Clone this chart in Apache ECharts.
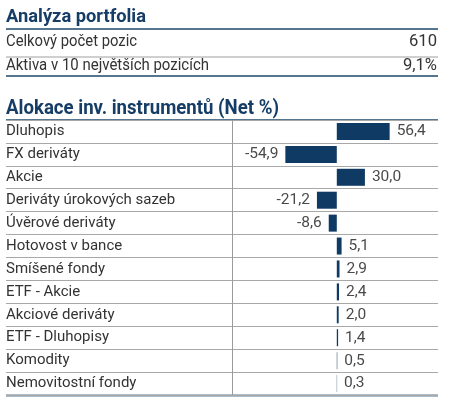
<!DOCTYPE html>
<html><head><meta charset="utf-8">
<script src="https://cdn.jsdelivr.net/npm/echarts@6/dist/echarts.min.js"></script>
<style>html,body{margin:0;padding:0;background:#fff}#c{width:450px;height:407px}</style>
</head><body><div id="c"></div>
<script>
var summaryTitle = 'Analýza portfolia';
var summaryLabels = ['Celkový počet pozic', 'Aktiva v 10 největších pozicích'];
var summaryValues = ['610', '9,1%'];
var chartTitle = 'Alokace inv. instrumentů (Net %)';
var categories = ['Dluhopis', 'FX deriváty', 'Akcie', 'Deriváty úrokových sazeb', 'Úvěrové deriváty',
  'Hotovost v bance', 'Smíšené fondy', 'ETF - Akcie', 'Akciové deriváty', 'ETF - Dluhopisy',
  'Komodity', 'Nemovitostní fondy'];
var values = [56.4, -54.9, 30.0, -21.2, -8.6, 5.1, 2.9, 2.4, 2.0, 1.4, 0.5, 0.3];

var FONT = 'Roboto, "Noto Sans", sans-serif';
var NAVY = '#0e3a63';
var TITLE = '#163d66';
var TXT = '#333333';
var RULE = '#56768f';

var mctx = document.createElement('canvas').getContext('2d');
function measure(text, font) { mctx.font = font; return mctx.measureText(text).width; }
function fit(text, font, target) { return target / measure(text, font); }

var labelSize = Math.round(16 * fit('Deriváty úrokových sazeb', '16px ' + FONT, 168) * 2) / 2;

var chart = echarts.init(document.getElementById('c'), null, {renderer: 'canvas'});

function txt(text, x, y, font, color, width, align) {
  var s = fit(text, font, width);
  return {type: 'text', x: x, y: y, scaleX: s, originX: 0, originY: 0,
    style: {text: text, font: font, fill: color, textAlign: align || 'left', textVerticalAlign: 'middle'}};
}

var graphics = [
  txt(summaryTitle, 6, 17.5, 'bold 19px ' + FONT, TITLE, 140),
  {type: 'rect', shape: {x: 6, y: 28, width: 432, height: 2}, style: {fill: RULE}},
  {type: 'rect', shape: {x: 6, y: 56.5, width: 432, height: 1}, style: {fill: '#a0a0a0'}},
  {type: 'rect', shape: {x: 6, y: 75, width: 432, height: 2}, style: {fill: RULE}},
  txt(chartTitle, 6, 108.5, 'bold 20px ' + FONT, TITLE, 273),
  {type: 'rect', shape: {x: 6, y: 119, width: 432, height: 2}, style: {fill: RULE}},
  {type: 'rect', shape: {x: 6, y: 394.5, width: 432, height: 2}, style: {fill: RULE}}
];
var rowY = [41.5, 65.5];
var labelW = [131, 203];
var valueW = [28, 34];
summaryLabels.forEach(function (t, i) {
  graphics.push(txt(t, 6, rowY[i], '16px ' + FONT, TXT, labelW[i]));
  graphics.push(txt(summaryValues[i], 437, rowY[i], '16px ' + FONT, TXT, valueW[i], 'right'));
});

chart.setOption({
  animation: false,
  grid: {left: 6, right: 12, top: 120, bottom: 12, containLabel: false},
  xAxis: {type: 'value', min: -353, max: 108, show: false},
  yAxis: {
    type: 'category', data: categories, inverse: true,
    axisLine: {show: false}, axisTick: {show: false},
    axisLabel: {inside: true, margin: 0, align: 'left', verticalAlign: 'middle', padding: [5, 0, 0, 0],
      fontFamily: FONT, fontSize: labelSize, color: TXT},
    splitLine: {show: true, lineStyle: {color: '#a8a8a8', width: 1}}
  },
  series: [{
    type: 'bar', barWidth: 17,
    data: values.map(function (v) {
      return {value: v, label: {position: v < 0 ? 'left' : 'right'}};
    }),
    itemStyle: {color: NAVY},
    label: {show: true, distance: 7, fontFamily: FONT, fontSize: 15.5, color: '#4a4a4a',
      padding: [4, 0, 0, 0],
      formatter: function (p) { return p.value.toFixed(1).replace('.', ','); }},
    markLine: {silent: true, symbol: 'none', label: {show: false},
      lineStyle: {color: '#9a9a9a', type: 'solid', width: 1},
      data: [{xAxis: -112}]}
  }],
  graphic: graphics
});
</script></body></html>
